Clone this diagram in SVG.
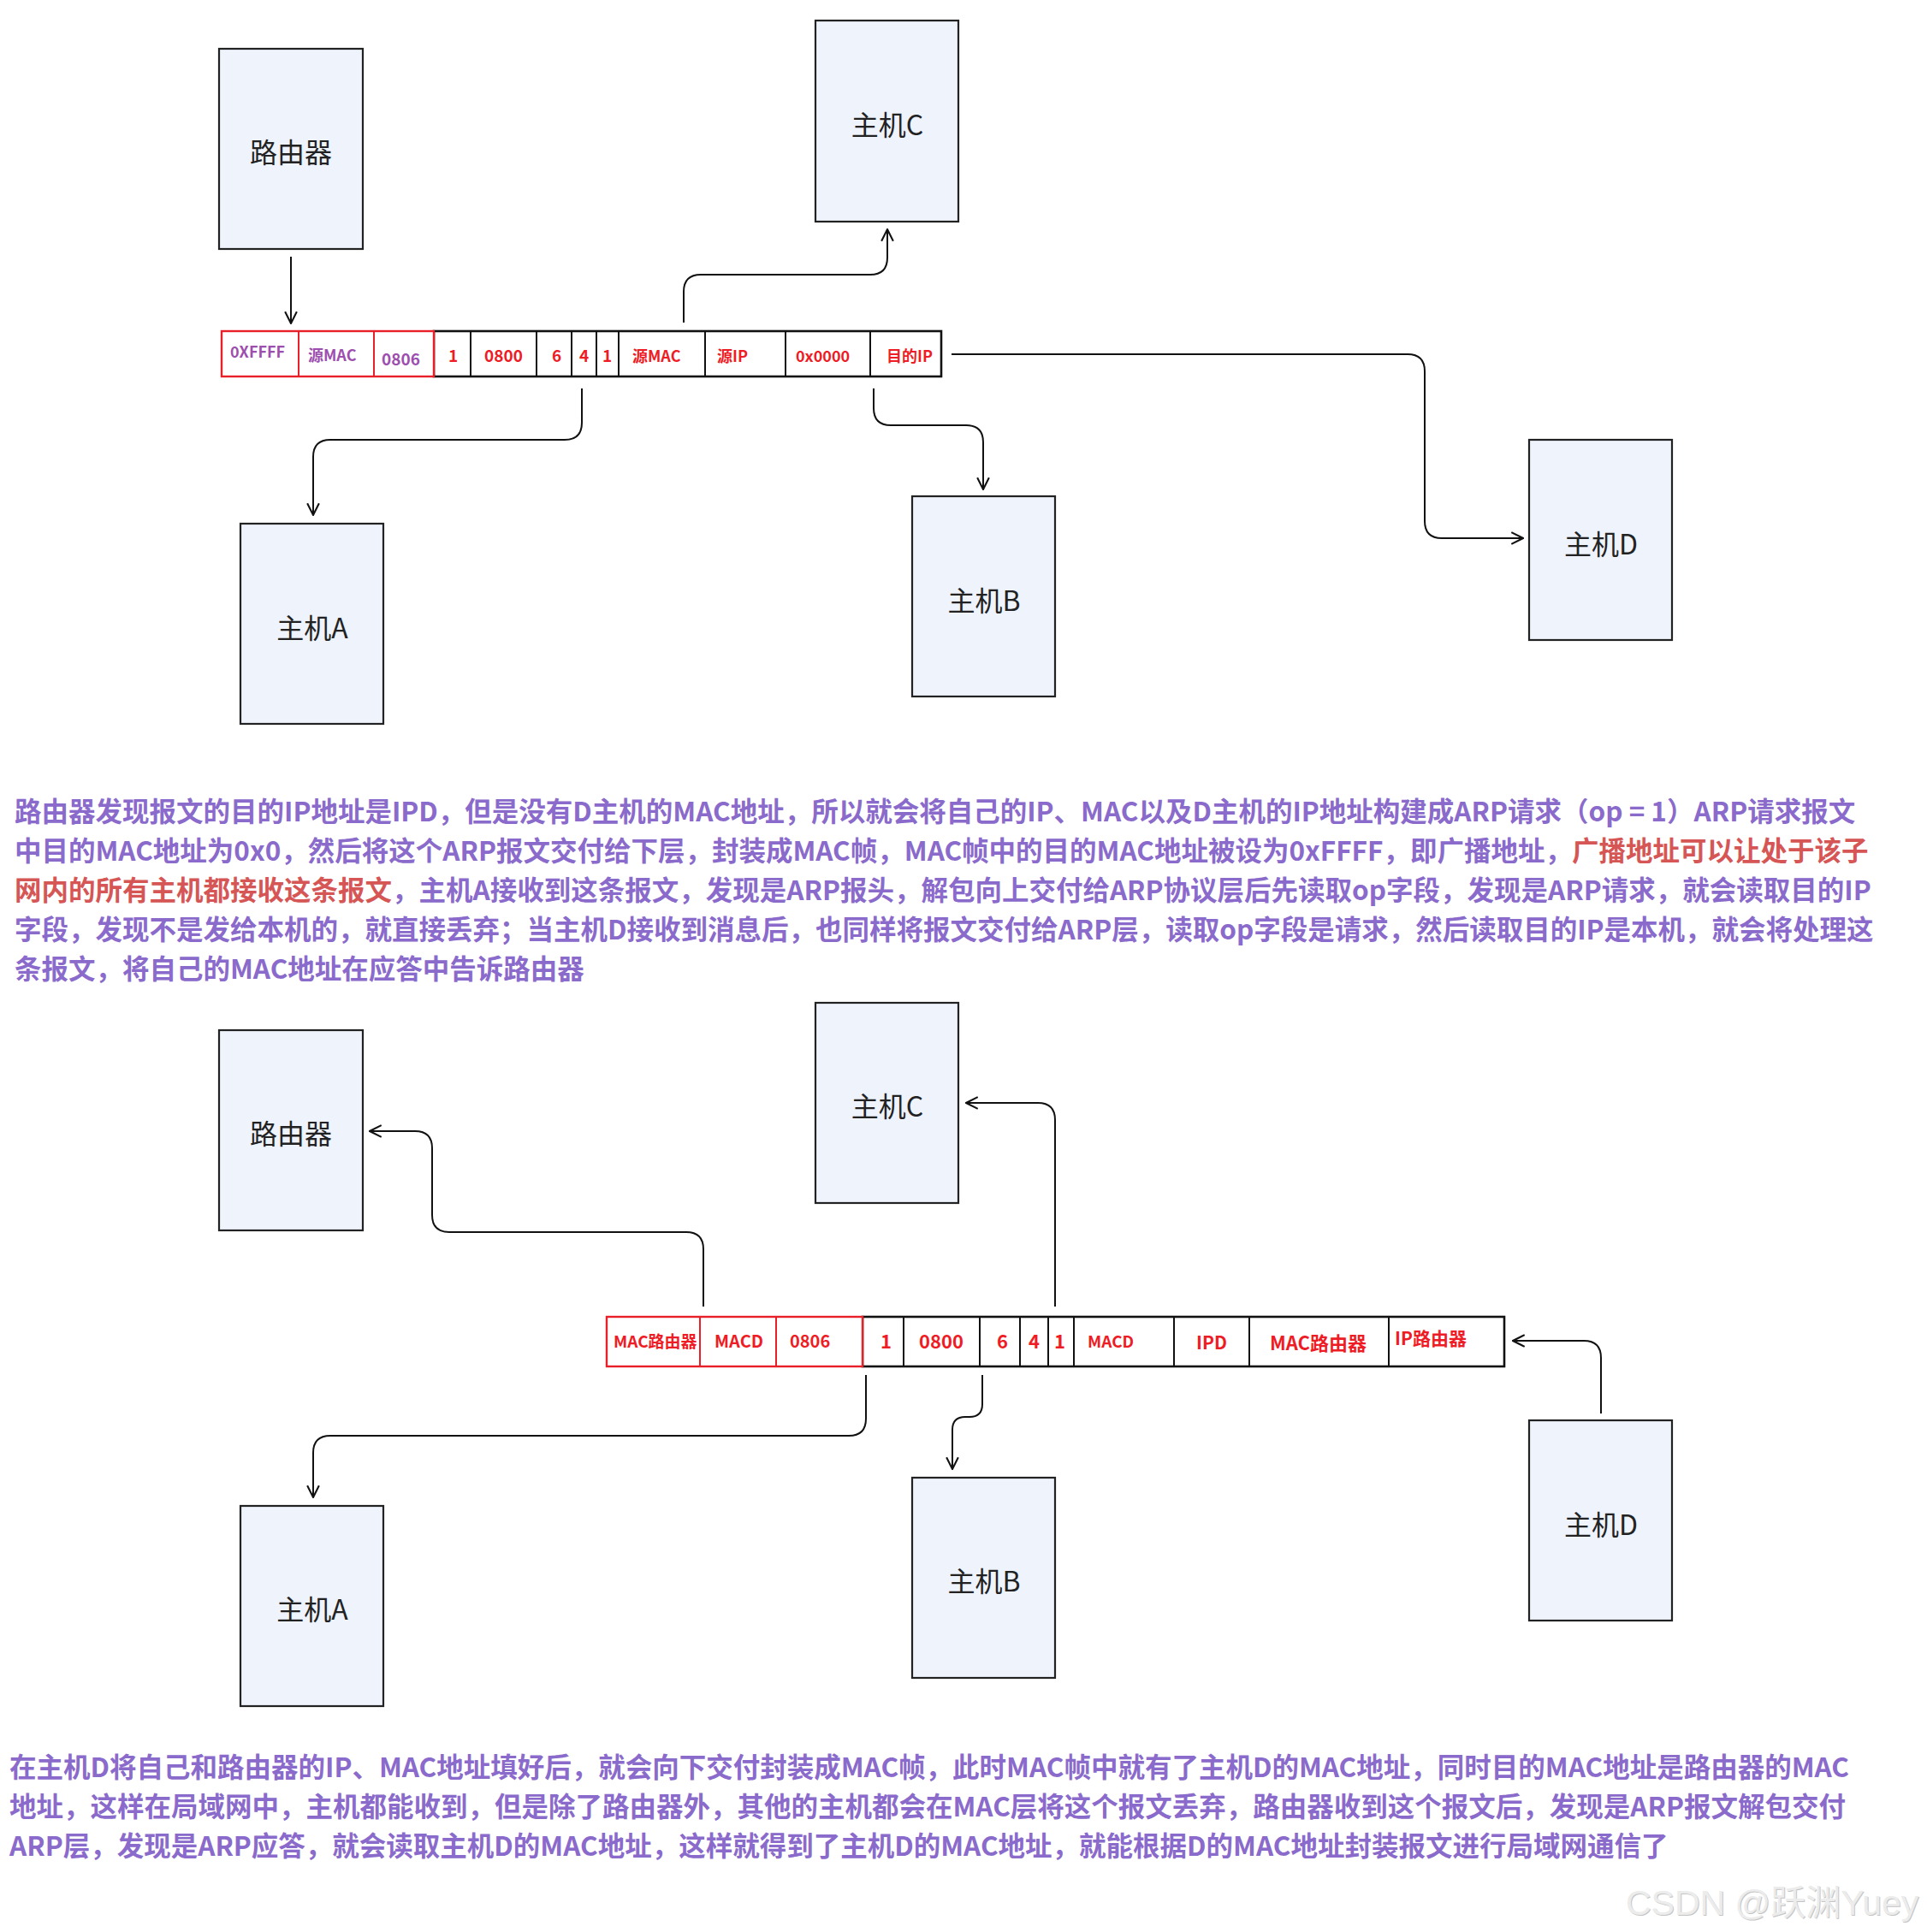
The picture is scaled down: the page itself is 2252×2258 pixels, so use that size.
<svg xmlns="http://www.w3.org/2000/svg" width="2252" height="2258" viewBox="0 0 2252 2258">
<style>
.node{fill:#eef3fc;stroke:#222;stroke-width:2.2}
.lbl{font-family:"Noto Sans CJK SC","Noto Sans",sans-serif;font-size:32px;fill:#222;text-anchor:middle;dominant-baseline:central}
.conn{fill:none;stroke:#111;stroke-width:2}
.rc{fill:#fff;stroke:#e8202a;stroke-width:2.4}
.bc{fill:#fff;stroke:#111;stroke-width:2.6}
.sep{stroke:#111;stroke-width:2}
.rsep{stroke:#e8202a;stroke-width:2}
.pt{font-family:"Noto Sans CJK SC","Noto Sans",sans-serif;font-weight:bold;fill:#ee1c25}
.pp{font-family:"Noto Sans CJK SC","Noto Sans",sans-serif;font-weight:bold;fill:#9d4fae}
.para{font-family:"Noto Sans CJK SC","Noto Sans",sans-serif;font-weight:bold;font-size:31.5px;fill:#8a6acb}
.hl{fill:#d65656}
.wm{font-family:"Liberation Sans","Noto Sans CJK SC",sans-serif;font-size:41px}
</style>
<defs>
<marker id="arr" viewBox="0 0 14 14" refX="13" refY="7" markerWidth="16" markerHeight="16" orient="auto" markerUnits="userSpaceOnUse">
<path d="M1,1 L13,7 L1,13" fill="none" stroke="#111" stroke-width="1.8"/>
</marker>
</defs>
<rect width="2252" height="2258" fill="#fff"/>

<!-- top diagram nodes -->
<g id="router1"><rect class="node" x="256" y="57" width="168" height="234"/><text class="lbl" x="340" y="176">路由器</text></g>
<g id="hostC1"><rect class="node" x="953" y="24" width="167" height="235"/><text class="lbl" x="1037" y="144">主机C</text></g>
<g id="hostA1"><rect class="node" x="281" y="612" width="167" height="234"/><text class="lbl" x="365" y="732">主机A</text></g>
<g id="hostB1"><rect class="node" x="1066" y="580" width="167" height="234"/><text class="lbl" x="1150" y="700">主机B</text></g>
<g id="hostD1"><rect class="node" x="1787" y="514" width="167" height="234"/><text class="lbl" x="1871" y="634">主机D</text></g>

<g id="packet1">
<rect class="bc" x="507" y="387" width="593" height="53"/>
<line class="sep" x1="550" y1="387" x2="550" y2="440"/>
<line class="sep" x1="627" y1="387" x2="627" y2="440"/>
<line class="sep" x1="668" y1="387" x2="668" y2="440"/>
<line class="sep" x1="697" y1="387" x2="697" y2="440"/>
<line class="sep" x1="723" y1="387" x2="723" y2="440"/>
<line class="sep" x1="824" y1="387" x2="824" y2="440"/>
<line class="sep" x1="918" y1="387" x2="918" y2="440"/>
<line class="sep" x1="1017" y1="387" x2="1017" y2="440"/>
<rect class="rc" x="259" y="387" width="248" height="53"/>
<line class="rsep" x1="349" y1="387" x2="349" y2="440"/>
<line class="rsep" x1="437" y1="387" x2="437" y2="440"/>
<text class="pp" font-size="18" x="269" y="418">0XFFFF</text>
<text class="pp" font-size="18" x="360" y="422">源MAC</text>
<text class="pp" font-size="19" x="446" y="427">0806</text>
<text class="pt" font-size="19" x="524" y="423">1</text>
<text class="pt" font-size="19" x="566" y="423">0800</text>
<text class="pt" font-size="19" x="645" y="423">6</text>
<text class="pt" font-size="19" x="677" y="423">4</text>
<text class="pt" font-size="19" x="704" y="423">1</text>
<text class="pt" font-size="18" x="739" y="423">源MAC</text>
<text class="pt" font-size="18" x="838" y="423">源IP</text>
<text class="pt" font-size="18" x="930" y="423">0x0000</text>
<text class="pt" font-size="18" x="1036" y="423">目的IP</text>
</g>

<!-- bottom diagram nodes -->
<g id="router2"><rect class="node" x="256" y="1204" width="168" height="234"/><text class="lbl" x="340" y="1323">路由器</text></g>
<g id="hostC2"><rect class="node" x="953" y="1172" width="167" height="234"/><text class="lbl" x="1037" y="1291">主机C</text></g>
<g id="hostA2"><rect class="node" x="281" y="1760" width="167" height="234"/><text class="lbl" x="365" y="1879">主机A</text></g>
<g id="hostB2"><rect class="node" x="1066" y="1727" width="167" height="234"/><text class="lbl" x="1150" y="1846">主机B</text></g>
<g id="hostD2"><rect class="node" x="1787" y="1660" width="167" height="234"/><text class="lbl" x="1871" y="1780">主机D</text></g>

<g id="packet2">
<rect class="bc" x="1008" y="1539" width="750" height="58"/>
<line class="sep" x1="1056" y1="1539" x2="1056" y2="1597"/>
<line class="sep" x1="1145" y1="1539" x2="1145" y2="1597"/>
<line class="sep" x1="1192" y1="1539" x2="1192" y2="1597"/>
<line class="sep" x1="1225" y1="1539" x2="1225" y2="1597"/>
<line class="sep" x1="1255" y1="1539" x2="1255" y2="1597"/>
<line class="sep" x1="1372" y1="1539" x2="1372" y2="1597"/>
<line class="sep" x1="1460" y1="1539" x2="1460" y2="1597"/>
<line class="sep" x1="1623" y1="1539" x2="1623" y2="1597"/>
<rect class="rc" x="709" y="1539" width="299" height="58"/>
<line class="rsep" x1="818" y1="1539" x2="818" y2="1597"/>
<line class="rsep" x1="907" y1="1539" x2="907" y2="1597"/>
<text class="pt" font-size="19" x="717" y="1575">MAC路由器</text>
<text class="pt" font-size="20" x="835" y="1575">MACD</text>
<text class="pt" font-size="20" x="923" y="1575">0806</text>
<text class="pt" font-size="22" x="1029" y="1576">1</text>
<text class="pt" font-size="22" x="1074" y="1576">0800</text>
<text class="pt" font-size="22" x="1165" y="1576">6</text>
<text class="pt" font-size="22" x="1202" y="1576">4</text>
<text class="pt" font-size="22" x="1232" y="1576">1</text>
<text class="pt" font-size="19" x="1271" y="1575">MACD</text>
<text class="pt" font-size="21" x="1398" y="1577">IPD</text>
<text class="pt" font-size="22" x="1484" y="1578">MAC路由器</text>
<text class="pt" font-size="21" x="1630" y="1572">IP路由器</text>
</g>

<g id="connectors">
<path class="conn" marker-end="url(#arr)" d="M340,300 V378"/>
<path class="conn" marker-end="url(#arr)" d="M799,377 V341 Q799,321 819,321 H1017 Q1037,321 1037,301 V268"/>
<path class="conn" marker-end="url(#arr)" d="M680,454 V494 Q680,514 660,514 H386 Q366,514 366,534 V602"/>
<path class="conn" marker-end="url(#arr)" d="M1021,454 V477 Q1021,497 1041,497 H1129 Q1149,497 1149,517 V572"/>
<path class="conn" marker-end="url(#arr)" d="M1112,414 H1645 Q1665,414 1665,434 V609 Q1665,629 1685,629 H1780"/>
<path class="conn" marker-end="url(#arr)" d="M822,1527 V1460 Q822,1440 802,1440 H525 Q505,1440 505,1420 V1342 Q505,1322 485,1322 H432"/>
<path class="conn" marker-end="url(#arr)" d="M1233,1527 V1309 Q1233,1289 1213,1289 H1129"/>
<path class="conn" marker-end="url(#arr)" d="M1012,1607 V1658 Q1012,1678 992,1678 H386 Q366,1678 366,1698 V1750"/>
<path class="conn" marker-end="url(#arr)" d="M1148,1607 V1641 Q1148,1656 1133,1656 H1128 Q1113,1656 1113,1671 V1717"/>
<path class="conn" marker-end="url(#arr)" d="M1871,1652 V1587 Q1871,1567 1851,1567 H1768"/>
</g>

<g id="paragraph1" class="para">
<text x="17" y="960">路由器发现报文的目的IP地址是IPD，但是没有D主机的MAC地址，所以就会将自己的IP、MAC以及D主机的IP地址构建成ARP请求（op = 1）ARP请求报文</text>
<text x="17" y="1006">中目的MAC地址为0x0，然后将这个ARP报文交付给下层，封装成MAC帧，MAC帧中的目的MAC地址被设为0xFFFF，即广播地址，<tspan class="hl">广播地址可以让处于该子</tspan></text>
<text x="17" y="1052"><tspan class="hl">网内的所有主机都接收这条报文</tspan>，主机A接收到这条报文，发现是ARP报头，解包向上交付给ARP协议层后先读取op字段，发现是ARP请求，就会读取目的IP</text>
<text x="17" y="1098">字段，发现不是发给本机的，就直接丢弃；当主机D接收到消息后，也同样将报文交付给ARP层，读取op字段是请求，然后读取目的IP是本机，就会将处理这</text>
<text x="17" y="1144">条报文，将自己的MAC地址在应答中告诉路由器</text>
</g>

<g id="paragraph2" class="para">
<text x="11" y="2077">在主机D将自己和路由器的IP、MAC地址填好后，就会向下交付封装成MAC帧，此时MAC帧中就有了主机D的MAC地址，同时目的MAC地址是路由器的MAC</text>
<text x="11" y="2123">地址，这样在局域网中，主机都能收到，但是除了路由器外，其他的主机都会在MAC层将这个报文丢弃，路由器收到这个报文后，发现是ARP报文解包交付</text>
<text x="11" y="2169">ARP层，发现是ARP应答，就会读取主机D的MAC地址，这样就得到了主机D的MAC地址，就能根据D的MAC地址封装报文进行局域网通信了</text>
</g>

<g id="watermark">
<text class="wm" x="1901" y="2239" fill="#c4c4c4">CSDN @跃渊Yuey</text>
<text class="wm" x="1900" y="2238" fill="#ececec">CSDN @跃渊Yuey</text>
</g>
</svg>
